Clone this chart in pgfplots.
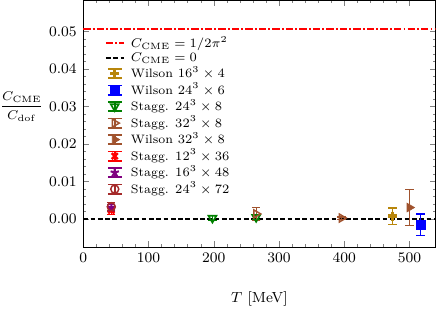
\documentclass[border=0pt]{standalone}
\usepackage{pgfplots}
\pgfplotsset{compat=1.18}
\usetikzlibrary{plotmarks}
\definecolor{cgold}{RGB}{184,134,11}
\definecolor{cblue}{RGB}{0,0,255}
\definecolor{cgreen}{RGB}{0,128,0}
\definecolor{csienna}{RGB}{160,82,45}
\definecolor{cpurple}{RGB}{128,0,128}
\definecolor{cbrown}{RGB}{165,42,42}
\pgfplotsset{
  lnleg/.style={legend image code/.code={
    \path (0cm,-0.1cm) (0.42cm,0.1cm);
    \draw[##1] (0cm,0cm)--(0.34cm,0cm);
  }},
  ebleg/.style={legend image code/.code={
    \path (0cm,-0.1cm) (0.42cm,0.1cm);
    \draw[##1,mark=none,solid,line width=0.9pt] (0.17cm,-0.09cm)--(0.17cm,0.09cm);
    \draw[##1,mark=none,solid,line width=0.9pt] (0.04cm,-0.09cm)--(0.30cm,-0.09cm);
    \draw[##1,mark=none,solid,line width=0.9pt] (0.04cm,0.09cm)--(0.30cm,0.09cm);
    \draw[##1] plot coordinates {(0.17cm,0cm)};
  }},
  eb/.style={only marks, error bars/y dir=both, error bars/y explicit,
    error bars/error mark options={rotate=90, mark size=2.3pt, line width=0.7pt, solid},
    error bars/error bar style={line width=0.7pt, solid}},
}
\begin{document}
\begin{tikzpicture}
\begin{axis}[
  scale only axis, width=193pt, height=135pt,
  xmin=0, xmax=540, ymin=-0.0075, ymax=0.0583,
  xtick={0,100,200,300,400,500}, minor x tick num=4,
  ytick={0,0.01,0.02,0.03,0.04,0.05}, minor y tick num=4,
  tick align=inside, major tick length=3pt, minor tick length=1.6pt,
  scaled y ticks=false,
  yticklabel style={/pgf/number format/fixed, /pgf/number format/precision=2, /pgf/number format/fixed zerofill},
  tick label style={font=\footnotesize},
  label style={font=\footnotesize},
  xlabel={$T$ [MeV]},
  xlabel style={yshift=-9pt},
  ylabel={$\displaystyle\frac{C_{\mathrm{CME}}}{C_{\mathrm{dof}}}$},
  every axis y label/.style={at={(rel axis cs:0,0.57)}, anchor=east, xshift=-21.5pt, inner xsep=0pt, font=\fontsize{6.8}{8}\selectfont},
  legend style={at={(0.045,0.88)}, anchor=north west, draw=none, fill=none,
    font=\fontsize{6.7}{7}\selectfont, row sep=-1.1pt, nodes={inner sep=1.2pt}},
  legend cell align=left,
]
\addplot[draw=red, line width=1.1pt, dash pattern=on 4pt off 1.2pt on 1pt off 1.2pt, lnleg] coordinates {(0,0.05066) (540,0.05066)};
\addlegendentry{$C_{\mathrm{CME}}=1/2\pi^2$}
\addplot[draw=black, line width=1.1pt, dash pattern=on 2.6pt off 1.4pt, lnleg] coordinates {(0,0) (540,0)};
\addlegendentry{$C_{\mathrm{CME}}=0$}

\addplot[cgold, eb, ebleg, mark=+, mark size=2.4pt, mark options={line width=1.9pt}] coordinates {(474,0.0007) +- (0,0.0022)};
\addlegendentry{Wilson $16^3\times 4$}
\addplot[cblue, eb, ebleg, mark=square*, mark size=2.4pt] coordinates {(517,-0.0016) +- (0,0.0029)};
\addlegendentry{Wilson $24^3\times 6$}
\addplot[cgreen, eb, ebleg, mark=triangle, mark size=2.5pt, mark options={rotate=180, line width=0.9pt}] coordinates {(198,0.0002) +- (0,0.0006) (265,0.0004) +- (0,0.0007)};
\addlegendentry{Stagg. $24^3\times 8$}
\addplot[csienna, eb, ebleg, mark=triangle, mark size=2.5pt, mark options={rotate=-90, line width=0.8pt}] coordinates {(265,0.0013) +- (0,0.0017) (396,0.0002) +- (0,0.0003)};
\addlegendentry{Stagg. $32^3\times 8$}
\addplot[csienna, eb, ebleg, mark=triangle*, mark size=2.7pt, mark options={rotate=-90}] coordinates {(500,0.0030) +- (0,0.0048)};
\addlegendentry{Wilson $32^3\times 8$}
\addplot[red, eb, ebleg, mark=x, mark size=2.3pt, mark options={line width=1.3pt}] coordinates {(43,0.0022) +- (0,0.0010)};
\addlegendentry{Stagg. $12^3\times 36$}
\addplot[cpurple, eb, ebleg, mark=star, mark size=2.4pt, mark options={line width=1.1pt}] coordinates {(43,0.0030) +- (0,0.0008)};
\addlegendentry{Stagg. $16^3\times 48$}
\addplot[cbrown, eb, ebleg, mark=o, mark size=2.2pt, mark options={line width=0.8pt}] coordinates {(43,0.0032) +- (0,0.0011)};
\addlegendentry{Stagg. $24^3\times 72$}
\end{axis}
\end{tikzpicture}
\end{document}
